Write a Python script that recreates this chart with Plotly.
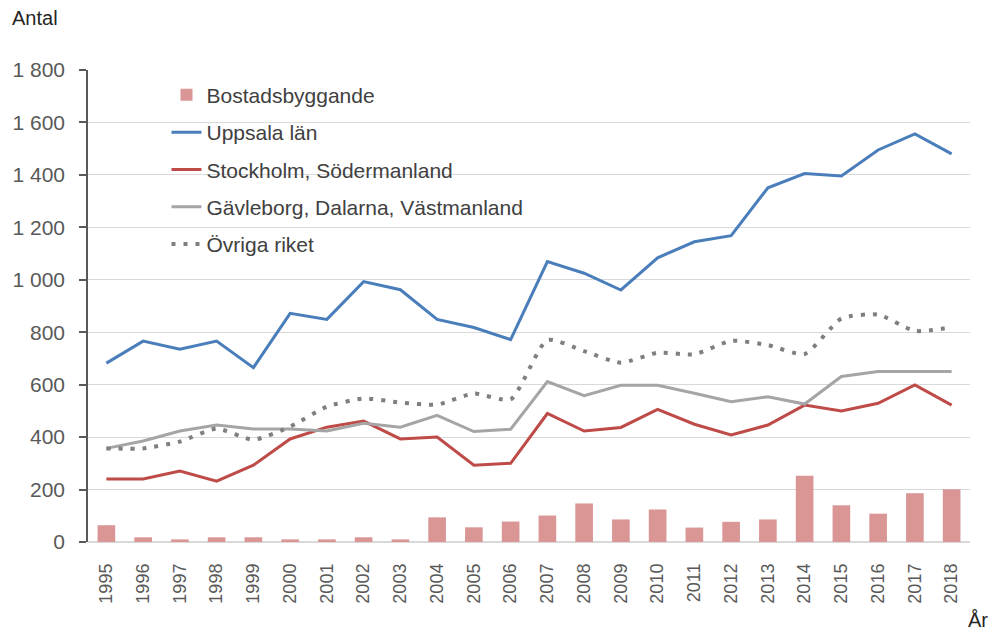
import plotly.graph_objects as go

years = [str(y) for y in range(1995, 2019)]

bostadsbyggande = [64, 18, 10, 18, 18, 10, 10, 18, 10, 94, 56, 78, 101, 147, 86, 124, 55, 77, 86, 253, 140, 108, 186, 201]
uppsala = [682, 766, 735, 766, 665, 872, 849, 993, 962, 849, 818, 772, 1069, 1025, 961, 1084, 1145, 1168, 1351, 1405, 1396, 1495, 1556, 1480]
stockholm = [240, 240, 271, 232, 293, 393, 438, 461, 393, 400, 293, 300, 490, 423, 437, 506, 449, 408, 446, 522, 500, 529, 599, 522]
gavleborg = [357, 385, 423, 446, 431, 431, 423, 453, 438, 483, 421, 430, 612, 558, 598, 598, 567, 535, 554, 526, 631, 650, 650, 650]
ovriga = [357, 357, 383, 432, 390, 440, 516, 547, 532, 524, 566, 544, 770, 728, 684, 722, 716, 767, 751, 717, 852, 867, 805, 819]

ytickvals = [0, 200, 400, 600, 800, 1000, 1200, 1400, 1600, 1800]
yticktext = ["0", "200", "400", "600", "800", "1 000", "1 200", "1 400", "1 600", "1 800"]

FONT = "Liberation Sans"
TICKC = "#595959"

fig = go.Figure()
fig.add_trace(go.Bar(x=years, y=bostadsbyggande, name="Bostadsbyggande",
                     marker=dict(color="#da9694", line=dict(width=0)), width=0.48,
                     legendgroup="a"))
fig.add_trace(go.Scatter(x=years, y=uppsala, name="Uppsala län", mode="lines",
                         line=dict(color="#4a7ebb", width=3), legendgroup="b"))
fig.add_trace(go.Scatter(x=years, y=stockholm, name="Stockholm, Södermanland", mode="lines",
                         line=dict(color="#be4b48", width=3), legendgroup="c"))
fig.add_trace(go.Scatter(x=years, y=gavleborg, name="Gävleborg, Dalarna, Västmanland", mode="lines",
                         line=dict(color="#a5a5a5", width=3), legendgroup="d"))
fig.add_trace(go.Scatter(x=years, y=ovriga, name="Övriga riket", mode="lines",
                         line=dict(color="#7f7f7f", width=4, dash="4px,8px", shape="spline", smoothing=0.6),
                         legendgroup="e"))

fig.update_layout(
    width=993, height=631,
    margin=dict(l=88, r=23, t=70, b=89),
    paper_bgcolor="white", plot_bgcolor="white",
    font=dict(family=FONT, size=20, color=TICKC),
    bargap=0.5,
    showlegend=True,
    legend=dict(x=0.089, y=0.99, xanchor="left", yanchor="top",
                bgcolor="rgba(255,255,255,0)", font=dict(size=21, color="#404040"),
                tracegroupgap=7, traceorder="grouped"),
    xaxis=dict(type="category", range=[-0.5, 23.5], showgrid=False, showline=False,
               zeroline=False, ticks="", tickangle=-90,
               tickfont=dict(size=18, color=TICKC), ticklabelstandoff=17),
    yaxis=dict(range=[0, 1800], tickvals=ytickvals, ticktext=yticktext,
               showgrid=True, gridcolor="#d9d9d9", gridwidth=1.3,
               zeroline=True, zerolinecolor="#d9d9d9", zerolinewidth=1.5,
               showline=True, linecolor="#595959", linewidth=1.5,
               ticks="outside", ticklen=7, tickcolor="#595959", tickwidth=1.5,
               tickfont=dict(size=21, color=TICKC), ticklabelstandoff=10),
    annotations=[
        dict(text="Antal", xref="paper", yref="paper", x=-0.089, y=1.11,
             xanchor="left", yanchor="middle", showarrow=False,
             font=dict(size=20, color="#262626")),
        dict(text="År", xref="paper", yref="paper", x=0.995, y=-0.165,
             xanchor="left", yanchor="middle", showarrow=False,
             font=dict(size=20, color="#262626")),
    ],
)

fig.write_html("out.html", config={"displayModeBar": False},
               post_script="document.body.style.margin='0';")
